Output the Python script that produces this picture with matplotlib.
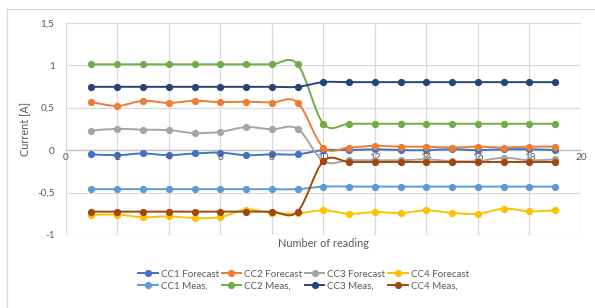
import matplotlib
matplotlib.use("Agg")
import matplotlib.pyplot as plt
from matplotlib.path import Path
from matplotlib.patches import PathPatch
from matplotlib.lines import Line2D
import numpy as np

plt.rcParams['font.family'] = ['Lato', 'DejaVu Sans']

readings = list(range(1, 20))

cc1_forecast = [-0.05, -0.06, -0.04, -0.06, -0.04, -0.03, -0.06, -0.05, -0.05,
                0.0, 0.0, 0.01, 0.0, 0.0, 0.01, 0.0, 0.01, 0.01, 0.0]
cc2_forecast = [0.565, 0.52, 0.58, 0.555, 0.58, 0.565, 0.57, 0.56, 0.56,
                0.03, 0.03, 0.05, 0.04, 0.04, 0.03, 0.04, 0.03, 0.04, 0.04]
cc3_forecast = [0.23, 0.25, 0.24, 0.235, 0.20, 0.215, 0.27, 0.245, 0.25,
                -0.13, -0.12, -0.12, -0.12, -0.11, -0.13, -0.13, -0.09, -0.12, -0.11]
cc4_forecast = [-0.765, -0.76, -0.79, -0.78, -0.80, -0.79, -0.70, -0.74, -0.745,
                -0.71, -0.75, -0.73, -0.74, -0.71, -0.74, -0.75, -0.69, -0.72, -0.71]
cc1_meas = [-0.46] * 9 + [-0.43] * 10
cc2_meas = [1.01] * 9 + [0.31] * 10
cc3_meas = [0.745] * 9 + [0.80] * 10
cc4_meas = [-0.725] * 9 + [-0.13, -0.14, -0.14, -0.14, -0.14, -0.14, -0.14, -0.14, -0.14, -0.14]

series = [
    ("CC1 Forecast", cc1_forecast, "#4472C4"),
    ("CC2 Forecast", cc2_forecast, "#ED7D31"),
    ("CC3 Forecast", cc3_forecast, "#A5A5A5"),
    ("CC4 Forecast", cc4_forecast, "#FFC000"),
    ("CC1 Meas,", cc1_meas, "#5B9BD5"),
    ("CC2 Meas,", cc2_meas, "#70AD47"),
    ("CC3 Meas,", cc3_meas, "#264478"),
    ("CC4 Meas,", cc4_meas, "#9E480E"),
]

x_ticks = [0, 2, 4, 6, 8, 10, 12, 14, 16, 18, 20]
y_ticks = [-1, -0.5, 0, 0.5, 1, 1.5]
y_tick_labels = ["-1", "-0,5", "0", "0,5", "1", "1,5"]


def smooth_path(xs, ys):
    p = np.column_stack([xs, ys]).astype(float)
    n = len(p)
    verts = [p[0]]
    codes = [Path.MOVETO]
    for i in range(n - 1):
        pm = p[i - 1] if i > 0 else p[i]
        pp = p[i + 2] if i + 2 < n else p[i + 1]
        c1 = p[i] + (p[i + 1] - pm) / 6.0
        c2 = p[i + 1] - (pp - p[i]) / 6.0
        verts += [c1, c2, p[i + 1]]
        codes += [Path.CURVE4] * 3
    return Path(verts, codes)


W, H = 595, 308
fig = plt.figure(figsize=(W / 100, H / 100), dpi=100)
left, right, top, bottom = 65.7, 581, 22.7, 235
ax = fig.add_axes([left / W, 1 - bottom / H, (right - left) / W, (bottom - top) / H])

# chart area border (top and left visible)
fig.add_artist(Line2D([7 / W, 7 / W], [0, 1 - 9 / H], transform=fig.transFigure,
                      color="#D9D9D9", lw=0.9))
fig.add_artist(Line2D([7 / W, 594 / W], [1 - 9 / H, 1 - 9 / H], transform=fig.transFigure,
                      color="#D9D9D9", lw=0.9))

ax.set_xlim(0, 20)
ax.set_ylim(-1, 1.5)
for s in ax.spines.values():
    s.set_visible(False)
for xv in x_ticks:
    ax.axvline(xv, color="#D9D9D9", lw=0.9, zorder=0)
for yv in y_ticks:
    ax.axhline(yv, color="#D9D9D9", lw=0.9, zorder=0)
ax.axhline(0, color="#BFBFBF", lw=0.9, zorder=0.5)

ax.set_xticks([])
ax.set_yticks(y_ticks)
ax.set_yticklabels(y_tick_labels)
ax.tick_params(axis='y', length=0, pad=8, labelsize=7.2, labelcolor="#595959")

for xv in x_ticks:
    ax.text(xv, -0.035, str(xv), ha="center", va="top", fontsize=7.2, color="#595959")

handles = []
for z, (name, vals, col) in enumerate(series):
    path = smooth_path(readings, vals)
    patch = PathPatch(path, facecolor="none", edgecolor=col, lw=1.4, zorder=2 + z,
                      capstyle="round", joinstyle="round")
    ax.add_patch(patch)
    ax.plot(readings, vals, linestyle="none", marker="o", markersize=4.2,
            color=col, zorder=2 + z)
    handles.append(Line2D([], [], color=col, lw=1.4, marker="o", markersize=4.2, label=name))

ax.set_xlabel("Number of reading", fontsize=7.8, color="#595959", labelpad=2)
ax.set_ylabel("Current [A]", fontsize=7.8, color="#595959", labelpad=4)

order = [0, 4, 1, 5, 2, 6, 3, 7]
leg = fig.legend([handles[i] for i in order], [handles[i].get_label() for i in order],
                 ncol=4, loc="center", bbox_to_anchor=(0.51, 1 - 280 / H), frameon=False,
                 fontsize=7, handlelength=2.0, columnspacing=0.3, handletextpad=0.3,
                 labelspacing=0.3, borderaxespad=0)
for t in leg.get_texts():
    t.set_color("#595959")

fig.savefig("out.png", dpi=100)
